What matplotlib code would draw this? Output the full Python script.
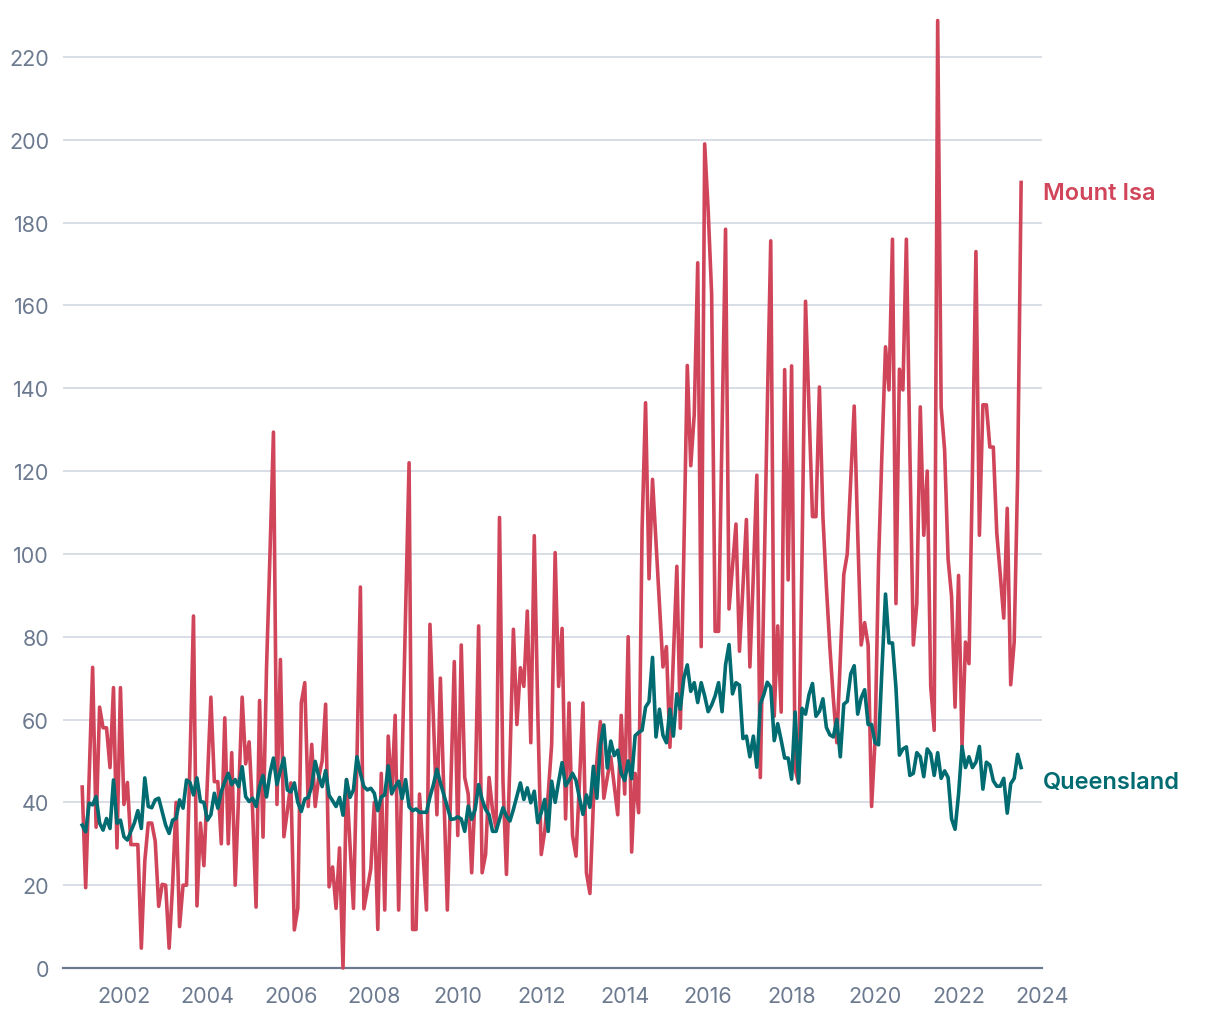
import numpy as np
import matplotlib.pyplot as plt

# Monthly series, Jan 2001 - Jul 2023
mount_isa = [
    43.7, 19.4, 46, 72.6, 34, 63, 58, 58, 48.4, 67.7, 29, 67.7,
    39.5, 44.8, 29.8, 29.8, 29.8, 4.8, 25.8, 35, 35, 30.6, 14.9, 20.2,
    20, 4.8, 20, 40, 10, 20, 20, 50, 85, 15, 35, 24.7,
    45, 65.4, 45, 45, 30, 60.4, 30, 52, 20, 42, 65.4, 49.3,
    54.6, 38, 14.7, 64.6, 31.6, 72.3, 100, 129.4, 39.5, 74.5, 31.7, 38,
    44.7, 9.2, 14.4, 64, 68.9, 39, 54, 39, 46, 50, 63.7, 19.6,
    24.4, 14.4, 29, 0, 45.5, 30, 14.4, 50, 92, 14.3, 19, 24,
    40, 9.3, 47, 14, 56, 42, 61, 14, 50, 86, 122, 9.3,
    9.3, 42, 28, 14, 83, 60, 37, 70, 42, 14, 44, 74,
    32, 78, 46, 42, 23, 42, 82.6, 23, 27.4, 46, 38, 33.8,
    108.8, 45, 22.6, 50, 81.8, 58.8, 72.5, 68, 86.2, 54.4, 104.4, 62,
    27.4, 33, 42, 54, 100.3, 68, 82, 36, 64, 32, 27, 45,
    64, 23, 18, 40, 50, 59.5, 41, 46, 51, 44, 37, 61,
    42, 80, 28, 47, 37.5, 106, 136.5, 94, 118, 103, 88, 72.7,
    77.6, 53.3, 75, 97, 57.9, 100, 145.5, 121.3, 133.7, 170.3, 77.6, 199,
    183, 162.8, 81.3, 81.3, 130, 178.4, 86.7, 97, 107.2, 76.5, 92, 108.3,
    72.7, 95, 119, 46, 90, 135, 175.6, 60.8, 82.6, 61.8, 144.5, 93.7,
    145.4, 48, 44.7, 100, 161, 135, 109, 109, 140.3, 109, 92, 77.5,
    65, 54.4, 75, 95, 100, 118, 135.7, 105, 78, 83.4, 78, 39,
    55, 98, 125, 150, 139.6, 176, 88, 144.6, 139.6, 176, 125, 78,
    88, 135.5, 104.5, 120, 68, 57.4, 228.8, 135.5, 125, 98.7, 89.7, 63,
    94.8, 53.5, 78.7, 73.5, 120, 173, 104.5, 136, 136, 125.8, 125.8, 105,
    95, 84.5, 111, 68.4, 78.7, 119, 189.7,
]

queensland = [
    34.5, 32.9, 39.8, 39.4, 41.4, 35, 33.3, 36.1, 33.7, 45.4, 35, 35.7,
    31.7, 30.9, 33, 35, 38, 33.7, 45.9, 39, 38.7, 40.6, 41, 37.8,
    34.5, 32.5, 35.7, 36.1, 40.6, 38.6, 45.4, 44.8, 41.8, 45.9, 40.2, 40,
    35.7, 37, 42.2, 38.6, 42.6, 45, 47, 44.3, 45.5, 43.8, 48.6, 41.4,
    40.2, 41, 39, 43.8, 46.5, 41.3, 47, 50.7, 44.3, 47.7, 50.7, 43,
    42.5, 44.7, 40, 37.8, 40.8, 41.2, 43.8, 49.9, 46.4, 43.8, 47.7, 41.7,
    40.4, 39, 41.2, 36.9, 45.5, 41.2, 43, 51, 47, 43.8, 43, 43.4,
    42.2, 38, 41.3, 41.8, 48.8, 42.2, 43.8, 45.1, 40.9, 45.5, 38.9, 38,
    38.4, 37.6, 37.6, 37.6, 41.3, 44.3, 48, 44.7, 41.8, 38.9, 35.9, 36,
    36.5, 36, 33, 39.1, 35.9, 38.3, 44.3, 40.7, 38.3, 37, 33, 33,
    35.9, 38.7, 36.7, 35.5, 38.3, 41.5, 44.7, 40.7, 43.5, 39.9, 42.7, 35.1,
    37.5, 40.7, 33, 45.1, 40, 45, 49.6, 44, 45.3, 47, 45.3, 41,
    37.1, 41.8, 38.8, 48.7, 41, 53.9, 58.7, 48.3, 54.8, 51.3, 52.6, 47,
    45.3, 50, 45.7, 56.1, 56.9, 57.4, 63, 64.3, 75, 55.8, 62.5, 56.2,
    54.4, 62.5, 56, 66.2, 62.5, 70, 73.2, 66.8, 68.9, 64.1, 68.9, 65.7,
    61.9, 63.5, 65.7, 68.9, 61.9, 73.2, 78.1, 66.2, 68.9, 68.3, 55.4, 56,
    51, 56, 48.5, 63.7, 66, 69, 67.8, 54.9, 59, 55, 50.7, 50.7,
    45.6, 61.8, 44.7, 62.7, 61.3, 66, 68.7, 60.8, 62, 65, 58.1, 56.3,
    55.8, 60, 51, 63.7, 64.4, 71, 73, 61.3, 65.2, 67.2, 58.8, 58.8,
    54.4, 53.9, 72.6, 90.3, 78.5, 78.5, 67.7, 51.4, 52.9, 53.4, 46.5, 47,
    52, 51, 46.2, 52.9, 51.7, 46.5, 52, 45.8, 47.6, 46, 36, 33.5,
    41.9, 53.5, 48.4, 51, 48.4, 49.7, 53.5, 43.2, 49.7, 49, 45.2, 43.9,
    43.9, 45.8, 37.4, 44.5, 45.8, 51.6, 48.4,
]

year_ticks = list(range(2002, 2025, 2))
y_ticks = list(range(0, 221, 20))

RED = '#D0455A'
TEAL = '#006B70'
GRID = '#D6DAE4'
AXIS = '#6C7A90'

plt.rcParams['font.family'] = ['Inter', 'DejaVu Sans']

t_isa = 2001 + np.arange(len(mount_isa)) / 12
t_qld = 2001 + np.arange(len(queensland)) / 12

fig = plt.figure(figsize=(12.2, 10.2), dpi=100)
ax = fig.add_axes([63 / 1220, 51 / 1020, 979 / 1220, 969 / 1020])

ax.plot(t_isa, mount_isa, color=RED, linewidth=2.6, clip_on=False, zorder=3)
ax.plot(t_qld, queensland, color=TEAL, linewidth=2.6, clip_on=False, zorder=4)

ax.set_xlim(2000.54, 2024.0)
ax.set_ylim(0, 234)
ax.set_yticks(y_ticks)
ax.set_xticks(year_ticks)
ax.set_xticklabels([str(y) for y in year_ticks])

ax.grid(axis='y', color=GRID, linewidth=1.3)
ax.set_axisbelow(True)
for side in ['top', 'right', 'left']:
    ax.spines[side].set_visible(False)
ax.spines['bottom'].set_color(AXIS)
ax.spines['bottom'].set_linewidth(1.6)

ax.tick_params(axis='both', length=0, labelsize=15.5, labelcolor=AXIS)
ax.tick_params(axis='y', pad=10)
ax.tick_params(axis='x', pad=13)

ax.text(1.001, 187.2, 'Mount Isa', transform=ax.get_yaxis_transform(), color=RED,
        fontsize=17, fontweight='semibold', ha='left', va='center')
ax.text(1.001, 44.9, 'Queensland', transform=ax.get_yaxis_transform(), color=TEAL,
        fontsize=17, fontweight='semibold', ha='left', va='center')

fig.savefig('out.png', dpi=100)
